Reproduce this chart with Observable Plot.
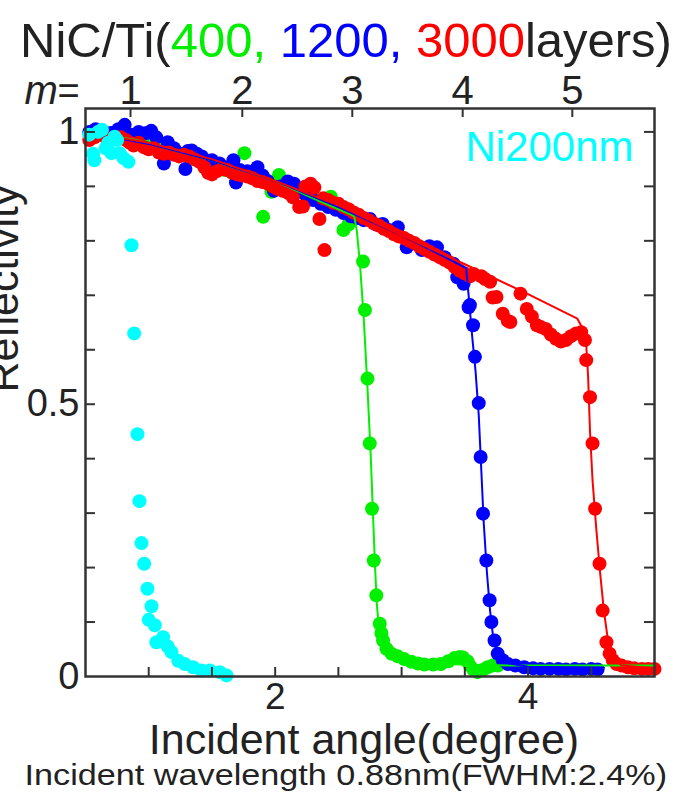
<!DOCTYPE html>
<html>
<head>
<meta charset="utf-8">
<script src="https://cdn.jsdelivr.net/npm/d3@7"></script>
<script src="https://cdn.jsdelivr.net/npm/@observablehq/plot@0.6"></script>
<style>
  html, body { margin: 0; padding: 0; background: #fff; }
  body { width: 692px; height: 793px; overflow: hidden; font-family: "Liberation Sans", Arial, sans-serif; color: #222; }
  #title { height: 64px; box-sizing: border-box; padding-top: 16px; font-size: 49px; line-height: 48px; text-align: center; white-space: nowrap; }
  #chart svg { display: block; }
  #caption { height: 33px; font-size: 30px; line-height: 29px; text-align: center; white-space: nowrap; }
  #caption span { display: inline-block; transform: scaleX(1.14); transform-origin: center; }
</style>
</head>
<body>
<div id="title">NiC/Ti(<span style="color:#00ee00">400,</span> <span style="color:#0000ff">1200,</span> <span style="color:#ff0000">3000</span>layers)</div>
<div id="chart"></div>
<div id="caption"><span>Incident wavelength 0.88nm(FWHM:2.4%)</span></div>
<script>
// ---------- data ----------
const cyanX = [0.53,0.56,0.57,0.6,0.63,0.66,0.68,0.705,0.73,0.75,0.77,0.8,0.84,0.864,0.885,0.911,0.927,0.943,0.964,0.99,1.0,1.022,1.048,1.061,1.114,1.15,1.18,1.233,1.285,1.351,1.417,1.483,1.562,1.615];
const cyanY = [0.995,0.96,0.948,1.0,1.004,0.97,0.98,0.961,0.991,0.985,0.961,0.952,0.945,0.792,0.63,0.445,0.322,0.245,0.207,0.161,0.104,0.129,0.094,0.063,0.072,0.055,0.045,0.029,0.023,0.017,0.011,0.011,0.008,0.002];

const greenX = [0.55,0.62,0.7,0.78,0.85,0.92,0.98,1.06,1.12,1.2,1.28,1.36,1.44,1.52,1.6,1.68,1.757,1.82,1.905,1.97,2.03,2.1,2.17,2.24,2.3,2.37,2.44,2.5,2.54,2.58,2.695,2.71,2.73,2.748,2.766,2.78,2.8,2.827,2.84,2.853,2.88,2.92,2.97,3.02,3.077,3.13,3.18,3.25,3.31,3.37,3.42,3.46,3.485,3.52,3.54,3.57,3.6,3.64,3.68,3.72,3.76];
const greenY = [1.0,0.995,0.99,0.99,0.985,0.983,0.98,0.982,0.97,0.962,0.958,0.95,0.94,0.935,0.93,0.925,0.961,0.918,0.844,0.89,0.921,0.9,0.89,0.885,0.878,0.872,0.881,0.86,0.82,0.83,0.762,0.673,0.547,0.428,0.308,0.213,0.149,0.097,0.08,0.066,0.051,0.042,0.037,0.032,0.027,0.024,0.022,0.022,0.023,0.028,0.034,0.036,0.035,0.028,0.02,0.012,0.008,0.012,0.017,0.02,0.02];

const blueX = [0.53,0.58,0.64,0.7,0.76,0.81,0.86,0.92,0.98,1.02,1.06,1.12,1.15,1.2,1.25,1.29,1.31,1.34,1.38,1.42,1.46,1.5,1.56,1.6,1.67,1.69,1.72,1.78,1.86,1.9,1.94,1.99,2.04,2.1,2.15,2.2,2.25,2.3,2.36,2.42,2.48,2.54,2.6,2.65,2.7,2.75,2.8,2.85,2.9,2.97,3.04,3.1,3.16,3.22,3.28,3.34,3.41,3.44,3.49,3.53,3.54,3.565,3.58,3.61,3.625,3.644,3.67,3.696,3.71,3.735,3.76,3.8,3.84,3.9,3.97,4.04,4.1,4.17,4.24,4.3,4.37,4.43,4.5,4.55];
const blueY = [1.0,1.005,1.0,0.998,1.005,1.013,0.995,1.0,0.998,1.002,0.99,0.942,0.981,0.97,0.96,0.932,0.965,0.966,0.96,0.955,0.945,0.948,0.942,0.935,0.948,0.907,0.93,0.928,0.935,0.92,0.91,0.892,0.9,0.909,0.905,0.89,0.882,0.875,0.868,0.862,0.857,0.851,0.845,0.842,0.838,0.84,0.83,0.831,0.82,0.825,0.788,0.795,0.783,0.79,0.788,0.77,0.758,0.733,0.721,0.678,0.682,0.645,0.587,0.502,0.403,0.299,0.213,0.14,0.1,0.066,0.042,0.03,0.023,0.02,0.017,0.015,0.014,0.014,0.014,0.013,0.014,0.013,0.014,0.013];

const redX = [0.53,0.57,0.62,0.66,0.7,0.74,0.78,0.82,0.85,0.88,0.92,0.96,1.0,1.04,1.08,1.12,1.16,1.2,1.24,1.28,1.32,1.36,1.4,1.44,1.47,1.5,1.54,1.58,1.62,1.66,1.7,1.74,1.78,1.82,1.86,1.9,1.94,1.98,2.02,2.06,2.1,2.14,2.19,2.22,2.24,2.28,2.31,2.35,2.39,2.38,2.42,2.46,2.5,2.54,2.58,2.62,2.66,2.7,2.74,2.78,2.82,2.86,2.9,2.94,2.98,3.02,3.06,3.1,3.14,3.18,3.22,3.26,3.3,3.34,3.38,3.42,3.46,3.5,3.54,3.57,3.63,3.66,3.7,3.72,3.75,3.8,3.84,3.86,3.94,3.99,4.03,4.07,4.1,4.14,4.18,4.22,4.26,4.3,4.34,4.38,4.42,4.45,4.46,4.49,4.51,4.53,4.565,4.59,4.62,4.645,4.67,4.7,4.74,4.79,4.84,4.9,4.95,5.0];
const redY = [0.985,0.99,0.995,0.99,0.985,0.99,0.99,0.985,0.98,0.975,0.98,0.972,0.968,0.97,0.962,0.96,0.962,0.958,0.955,0.958,0.955,0.95,0.945,0.935,0.925,0.922,0.928,0.932,0.93,0.925,0.922,0.92,0.918,0.915,0.91,0.908,0.905,0.9,0.895,0.892,0.888,0.88,0.862,0.863,0.9,0.905,0.898,0.84,0.783,0.878,0.875,0.87,0.868,0.862,0.858,0.852,0.848,0.842,0.838,0.832,0.828,0.822,0.818,0.812,0.808,0.805,0.8,0.796,0.79,0.785,0.78,0.775,0.77,0.765,0.76,0.752,0.745,0.74,0.735,0.739,0.735,0.73,0.725,0.696,0.697,0.666,0.653,0.651,0.703,0.675,0.661,0.645,0.642,0.638,0.628,0.62,0.615,0.618,0.625,0.63,0.632,0.618,0.581,0.513,0.428,0.308,0.207,0.121,0.063,0.042,0.03,0.023,0.02,0.017,0.015,0.014,0.014,0.014];

// theoretical curves
const greenLineX = [0.5,0.9,1.5,2.0,2.3,2.5,2.6,2.625,2.645,2.67,2.7,2.73,2.755,2.775,2.79,2.805,2.82,2.85,2.9,3.0,3.2,3.6,4.0,4.5,5.0];
const greenLineY = [1.0,0.985,0.948,0.91,0.878,0.858,0.848,0.845,0.82,0.76,0.66,0.53,0.41,0.29,0.2,0.13,0.09,0.06,0.042,0.03,0.024,0.021,0.02,0.02,0.02];
const blueLineX = [0.5,1.0,1.5,2.0,2.5,3.0,3.3,3.51,3.53,3.56,3.585,3.61,3.63,3.65,3.675,3.7,3.725,3.76,3.83,4.0,4.6];
const blueLineY = [1.0,0.978,0.948,0.91,0.862,0.81,0.775,0.75,0.7,0.62,0.56,0.48,0.38,0.28,0.19,0.12,0.07,0.04,0.025,0.018,0.016];
const redLineX = [0.5,1.0,1.5,2.0,2.5,3.0,3.5,4.0,4.39,4.43,4.46,4.475,4.49,4.51,4.54,4.57,4.6,4.63,4.67,4.74,5.0];
const redLineY = [1.0,0.98,0.95,0.91,0.865,0.81,0.757,0.702,0.657,0.64,0.61,0.55,0.45,0.36,0.27,0.19,0.12,0.07,0.035,0.02,0.015];

// axes
const xDomain = [0.5, 5];
const yDomain = [0, 1.043];
const xMinorTicks = [1, 1.5, 2, 2.5, 3, 3.5, 4, 4.5];
const xTickLabels = [2, 4];
const yMinorTicks = [0.1, 0.2, 0.3, 0.4, 0.5, 0.6, 0.7, 0.8, 0.9, 1.0];
const yTickValues = [0, 0.5, 1];
const yTickLabels = ["0", "0.5", "1"];
const mAngles = [0.856, 1.74, 2.61, 3.483, 4.35];
const mLabels = ["1", "2", "3", "4", "5"];

const colors = {green: "#00f000", blue: "#0000ff", red: "#ff0000", cyan: "#00ffff"};

const zip = (xs, ys) => xs.map((x, i) => ({x, y: ys[i]}));
const cyan = zip(cyanX, cyanY), green = zip(greenX, greenY), blue = zip(blueX, blueY), red = zip(redX, redY);
const gLine = zip(greenLineX, greenLineY), bLine = zip(blueLineX, blueLineY), rLine = zip(redLineX, redLineY);

const W = 692, H = 696, mL = 85, mR = 38, mT = 44, mB = 84;
const fw = W - mL - mR, fh = H - mT - mB;
const R = 7;
const ink = "#222";

const chart = Plot.plot({
  width: W, height: H,
  marginLeft: mL, marginRight: mR, marginTop: mT, marginBottom: mB,
  x: {domain: xDomain, axis: null},
  y: {domain: yDomain, axis: null},
  style: {fontFamily: "'Liberation Sans', Arial, sans-serif", background: "white", color: ink, overflow: "visible"},
  marks: [
    Plot.dot(green, {x: "x", y: "y", r: R, fill: colors.green}),
    Plot.dot(blue, {x: "x", y: "y", r: R, fill: colors.blue}),
    Plot.dot(red, {x: "x", y: "y", r: R, fill: colors.red}),
    Plot.line(gLine, {x: "x", y: "y", stroke: colors.green, strokeWidth: 2}),
    Plot.line(bLine, {x: "x", y: "y", stroke: colors.blue, strokeWidth: 2}),
    Plot.line(rLine, {x: "x", y: "y", stroke: colors.red, strokeWidth: 2}),
    Plot.dot(cyan, {x: "x", y: "y", r: R, fill: colors.cyan}),
    // inward ticks
    Plot.tickX(xMinorTicks, {x: d => d, insetTop: fh - 9, stroke: "#333", strokeWidth: 2}),
    Plot.tickX(mAngles, {x: d => d, insetBottom: fh - 9, stroke: "#333", strokeWidth: 2}),
    Plot.tickY(yMinorTicks, {y: d => d, insetRight: fw - 10, stroke: "#333", strokeWidth: 2}),
    Plot.tickY(yMinorTicks, {y: d => d, insetLeft: fw - 10, stroke: "#333", strokeWidth: 2}),
    Plot.frame({stroke: "#333", strokeWidth: 2.5}),
    // tick labels
    Plot.text(xTickLabels, {x: d => d, text: d => String(d), frameAnchor: "bottom", lineAnchor: "top", dy: 6, fontSize: 37, fill: ink}),
    Plot.text(yTickValues, {y: d => d, text: (d, i) => yTickLabels[i], frameAnchor: "left", textAnchor: "end", dx: -6, fontSize: 38, fill: ink}),
    Plot.text(mAngles, {x: d => d, text: (d, i) => mLabels[i], frameAnchor: "top", lineAnchor: "bottom", dy: -5, fontSize: 40, fill: ink}),
    Plot.text(["m"], {text: d => d, frameAnchor: "top-left", textAnchor: "start", lineAnchor: "bottom", dx: -61, dy: -5, fontSize: 40, fontStyle: "italic", fill: ink}),
    Plot.text(["="], {text: d => d, frameAnchor: "top-left", textAnchor: "start", lineAnchor: "bottom", dx: -28, dy: -5, fontSize: 38, fill: ink}),
    // axis titles
    Plot.text(["Incident angle(degree)"], {text: d => d, frameAnchor: "bottom", lineAnchor: "bottom", dx: -6, dy: 77, fontSize: 43, fill: ink}),
    Plot.text(["Reflectivity"], {text: d => d, frameAnchor: "left", rotate: -90, lineAnchor: "bottom", dx: -68, fontSize: 43, fill: ink}),
    Plot.text(["Ni200nm"], {text: d => d, frameAnchor: "top-right", textAnchor: "end", lineAnchor: "bottom", dx: -21, dy: 52, fontSize: 42, fill: colors.cyan})
  ]
});
document.getElementById("chart").append(chart);
</script>
</body>
</html>
